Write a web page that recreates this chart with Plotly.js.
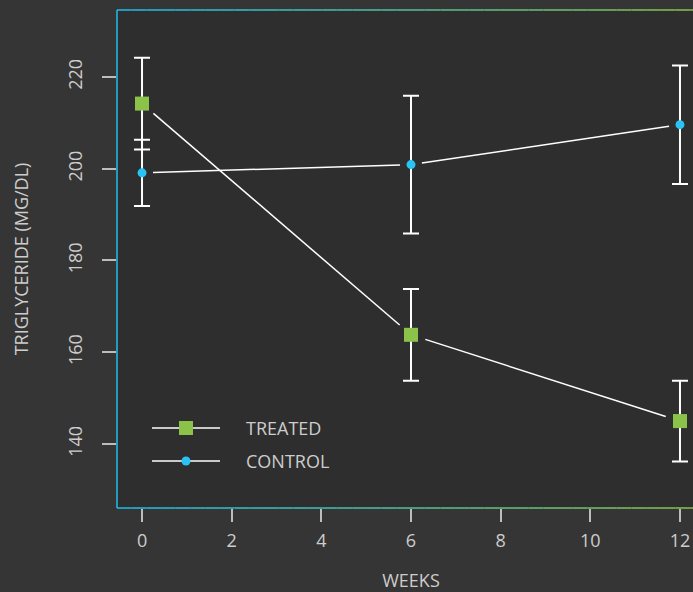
<!DOCTYPE html>
<html>
<head>
<meta charset="utf-8">
<script src="https://cdn.plot.ly/plotly-3.0.1.min.js"></script>
<style>
html,body{margin:0;padding:0;background:#353535;overflow:hidden;width:693px;height:592px;}
#chart{width:720px;height:592px;}
</style>
</head>
<body>
<div id="chart"></div>
<script>
// ---- data ----
const weeks = [0, 6, 12];
const seriesNames = ["TREATED", "CONTROL"];
const treatedMean = [214.2, 163.8, 145.0];
const treatedErr = [10, 10, 8.8];
const controlMean = [199.1, 200.9, 209.6];
const controlErr = [7.2, 15, 12.9];
const xTicks = [0, 2, 4, 6, 8, 10, 12];
const yTicks = [140, 160, 180, 200, 220];
const xTitle = "WEEKS";
const yTitle = "TRIGLYCERIDE (MG/DL)";

// ---- layout geometry ----
const W = 720, H = 592;
const M = {l: 117, r: 15, t: 10, b: 84};
const plotW = W - M.l - M.r, plotH = H - M.t - M.b;
const xRange = [-0.558, 12.558];
const yRange = [126.05, 234.6];
const pxX = plotW / (xRange[1] - xRange[0]);
const pxY = plotH / (yRange[1] - yRange[0]);

const textColor = "#cdcdcd";
const green = "#8bc34a";
const cyan = "#29c3f5";
const fontFam = "'Open Sans', 'DejaVu Sans', sans-serif";
const fs = 18;

// R type="b" style: line segments with gaps around points
function gappedLine(xs, ys, gap) {
  const gx = [], gy = [];
  for (let i = 0; i < xs.length - 1; i++) {
    const dx = (xs[i+1] - xs[i]) * pxX, dy = (ys[i+1] - ys[i]) * pxY;
    const L = Math.sqrt(dx*dx + dy*dy);
    const f = gap / L;
    gx.push(xs[i] + (xs[i+1]-xs[i]) * f, xs[i+1] - (xs[i+1]-xs[i]) * f, null);
    gy.push(ys[i] + (ys[i+1]-ys[i]) * f, ys[i+1] - (ys[i+1]-ys[i]) * f, null);
  }
  return {x: gx, y: gy};
}

const tl = gappedLine(weeks, treatedMean, 15);
const cl = gappedLine(weeks, controlMean, 11);

const traces = [
  {x: tl.x, y: tl.y, mode: "lines", line: {color: "#ffffff", width: 1.5}, hoverinfo: "skip", showlegend: false},
  {x: cl.x, y: cl.y, mode: "lines", line: {color: "#ffffff", width: 1.5}, hoverinfo: "skip", showlegend: false},
  {x: weeks, y: treatedMean, name: seriesNames[0], mode: "markers",
   marker: {symbol: "square", size: 14, color: green},
   error_y: {type: "data", array: treatedErr, visible: true, color: "#ffffff", thickness: 2, width: 8},
   showlegend: false},
  {x: weeks, y: controlMean, name: seriesNames[1], mode: "markers",
   marker: {symbol: "circle", size: 9, color: cyan},
   error_y: {type: "data", array: controlErr, visible: true, color: "#ffffff", thickness: 2, width: 8},
   showlegend: false}
];

// gradient frame (cyan -> green)
function lerpColor(a, b, t) {
  const pa = [parseInt(a.slice(1,3),16), parseInt(a.slice(3,5),16), parseInt(a.slice(5,7),16)];
  const pb = [parseInt(b.slice(1,3),16), parseInt(b.slice(3,5),16), parseInt(b.slice(5,7),16)];
  const c = pa.map((v,i)=>Math.round(v + (pb[i]-v)*t));
  return "rgb(" + c.join(",") + ")";
}
const shapes = [];
const frameA = "#1cbfee", frameB = "#8bc34a";
const N = 40;
for (let i = 0; i < N; i++) {
  const col = lerpColor(frameA, frameB, (i + 0.5) / N);
  [0, 1].forEach(yy => shapes.push({type: "line", xref: "paper", yref: "paper",
    x0: i / N, x1: (i + 1) / N, y0: yy, y1: yy, line: {color: col, width: 1.5}}));
}
shapes.push({type: "line", xref: "paper", yref: "paper", x0: 0, x1: 0, y0: 0, y1: 1, line: {color: frameA, width: 1.5}});
shapes.push({type: "line", xref: "paper", yref: "paper", x0: 1, x1: 1, y0: 0, y1: 1, line: {color: frameB, width: 1.5}});

// manual legend (R style)
const px2paperX = p => (p - M.l) / plotW;
const px2paperY = p => (H - M.b - p) / plotH;
const legRows = [
  {name: seriesNames[0], y: 428, sym: "square", color: green, size: 14},
  {name: seriesNames[1], y: 461, sym: "circle", color: cyan, size: 9}
];
const annotations = [];
legRows.forEach(r => {
  shapes.push({type: "line", xref: "paper", yref: "paper",
    x0: px2paperX(152), x1: px2paperX(220), y0: px2paperY(r.y), y1: px2paperY(r.y),
    line: {color: "#ffffff", width: 1.5}});
  const h = r.size / 2;
  shapes.push({type: r.sym === "square" ? "rect" : "circle", xref: "paper", yref: "paper",
    x0: px2paperX(186 - h), x1: px2paperX(186 + h), y0: px2paperY(r.y + h), y1: px2paperY(r.y - h),
    line: {width: 0}, fillcolor: r.color});
  annotations.push({xref: "paper", yref: "paper", x: px2paperX(244), y: px2paperY(r.y),
    xanchor: "left", yanchor: "middle", text: r.name, showarrow: false,
    font: {family: fontFam, size: fs, color: textColor}});
});

const layout = {
  width: W, height: H,
  margin: M,
  paper_bgcolor: "#353535",
  plot_bgcolor: "#2e2e2e",
  showlegend: false,
  font: {family: fontFam, size: fs, color: textColor},
  xaxis: {
    range: xRange, tickvals: xTicks, ticktext: xTicks.map(String),
    showgrid: false, zeroline: false, showline: false,
    ticks: "outside", ticklen: 13, tickwidth: 2, tickcolor: "#bdbdbd",
    tickfont: {family: fontFam, size: fs, color: textColor},
    ticklabelstandoff: 3,
    title: {text: xTitle, font: {family: fontFam, size: fs, color: textColor}, standoff: 26},
    automargin: false
  },
  yaxis: {
    range: yRange, tickvals: yTicks, ticktext: yTicks.map(String),
    showgrid: false, zeroline: false, showline: false,
    ticks: "outside", ticklen: 14, tickwidth: 2, tickcolor: "#bdbdbd",
    tickangle: -90,
    tickfont: {family: fontFam, size: fs, color: textColor},
    ticklabelstandoff: 13,
    title: {text: yTitle, font: {family: fontFam, size: fs, color: textColor}, standoff: 29},
    automargin: false
  },
  shapes: shapes,
  annotations: annotations
};

Plotly.newPlot("chart", traces, layout, {displayModeBar: false, staticPlot: true});
</script>
</body>
</html>
